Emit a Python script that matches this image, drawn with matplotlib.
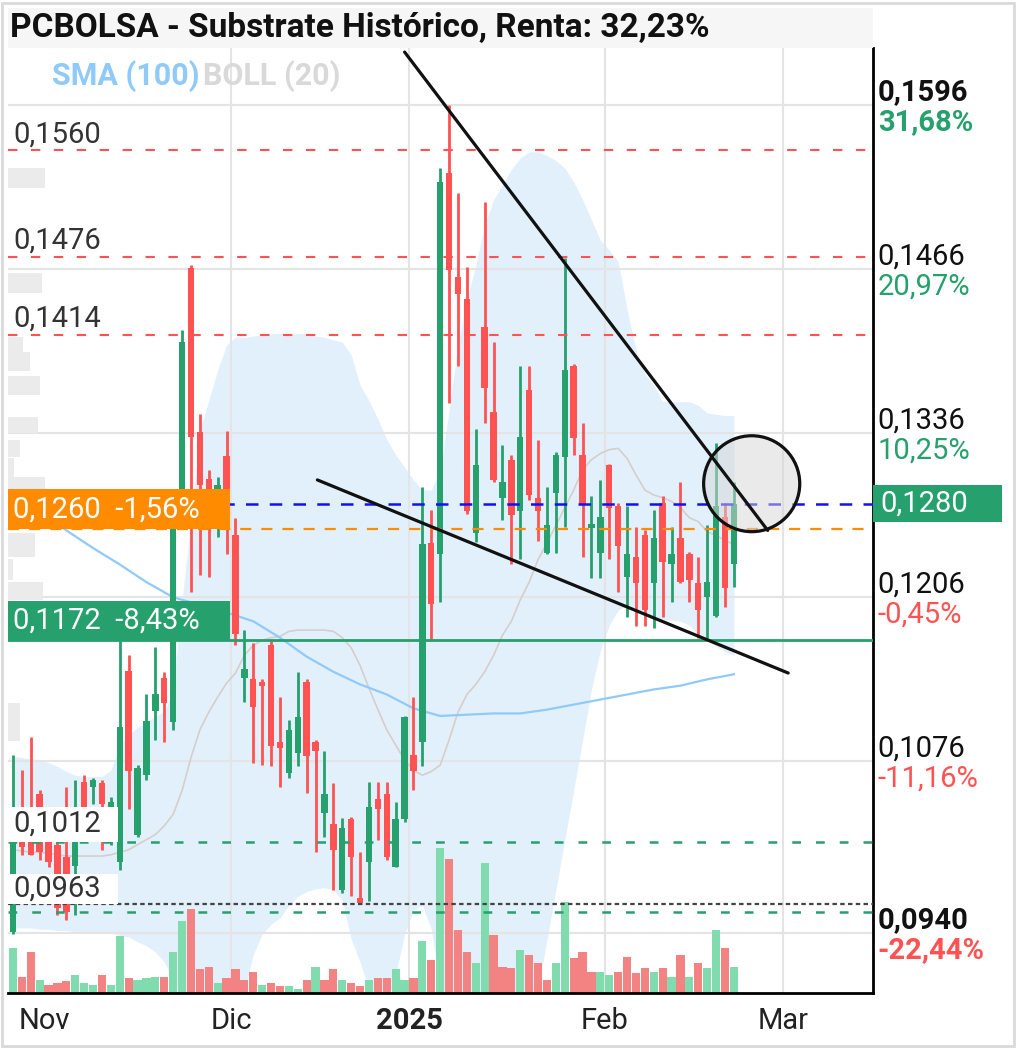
import matplotlib
matplotlib.use("Agg")
import matplotlib.pyplot as plt
import matplotlib.transforms as mtransforms
from matplotlib.patches import Rectangle, Ellipse
import numpy as np

plt.rcParams['font.family'] = ['Roboto', 'DejaVu Sans']

# --- OHLC, one candle per trading day (28 Oct 2024 .. 21 Feb 2025) ---
opens = [0.0941, 0.1036, 0.1034, 0.1050, 0.1012, 0.1010, 0.1000, 0.0993, 0.1060, 0.1056,
         0.1059, 0.1026, 0.0996, 0.1148, 0.1018, 0.1065, 0.1116, 0.1142, 0.1107, 0.1270,
         0.1467, 0.1337, 0.1300, 0.1279, 0.1318, 0.1255, 0.1142, 0.1141, 0.1139, 0.1168,
         0.1091, 0.1067, 0.1083, 0.1139, 0.1091, 0.1035, 0.1026, 0.0974, 0.1030, 0.0968,
         0.0996, 0.1046, 0.1050, 0.0992, 0.1030, 0.1081, 0.1091, 0.1249, 0.1240, 0.1542,
         0.1460, 0.1442, 0.1257, 0.1420, 0.1353, 0.1285, 0.1315, 0.1274, 0.1370, 0.1285,
         0.1241, 0.1289, 0.1317, 0.1389, 0.1319, 0.1261, 0.1241, 0.1311, 0.1278, 0.1222,
         0.1238, 0.1255, 0.1217, 0.1281, 0.1232, 0.1253, 0.1240, 0.1217, 0.1206, 0.1191,
         0.1270, 0.1232]
highs = [0.1081, 0.1069, 0.1095, 0.1053, 0.1016, 0.1014, 0.1056, 0.1061, 0.1065, 0.1063,
         0.1061, 0.1048, 0.1176, 0.1160, 0.1073, 0.1129, 0.1167, 0.1147, 0.1265, 0.1418,
         0.1469, 0.1351, 0.1307, 0.1301, 0.1338, 0.1269, 0.1180, 0.1170, 0.1141, 0.1171,
         0.1127, 0.1109, 0.1147, 0.1141, 0.1093, 0.1084, 0.1059, 0.1031, 0.1032, 0.1004,
         0.1060, 0.1060, 0.1060, 0.1044, 0.1112, 0.1127, 0.1293, 0.1275, 0.1546, 0.1596,
         0.1526, 0.1468, 0.1339, 0.1519, 0.1408, 0.1327, 0.1319, 0.1389, 0.1389, 0.1331,
         0.1293, 0.1321, 0.1475, 0.1391, 0.1344, 0.1286, 0.1299, 0.1312, 0.1281, 0.1278,
         0.1262, 0.1259, 0.1275, 0.1286, 0.1262, 0.1297, 0.1242, 0.1238, 0.1263, 0.1328,
         0.1281, 0.1297]
lows = [0.0939, 0.1002, 0.1002, 0.0998, 0.0992, 0.0954, 0.0950, 0.0954, 0.1030, 0.1042,
        0.1006, 0.1010, 0.0990, 0.1038, 0.1016, 0.1061, 0.1093, 0.1091, 0.1101, 0.1262,
        0.1210, 0.1224, 0.1222, 0.1254, 0.1240, 0.1168, 0.1123, 0.1075, 0.1073, 0.1072,
        0.1056, 0.1063, 0.1072, 0.1051, 0.1004, 0.1016, 0.0974, 0.0972, 0.0969, 0.0963,
        0.0965, 0.1014, 0.0998, 0.0992, 0.1028, 0.1053, 0.1072, 0.1171, 0.1202, 0.1360,
        0.1389, 0.1272, 0.1250, 0.1344, 0.1297, 0.1267, 0.1232, 0.1236, 0.1283, 0.1251,
        0.1240, 0.1241, 0.1262, 0.1319, 0.1238, 0.1221, 0.1221, 0.1236, 0.1210, 0.1190,
        0.1183, 0.1183, 0.1182, 0.1190, 0.1202, 0.1217, 0.1202, 0.1174, 0.1172, 0.1190,
        0.1198, 0.1214]
closes = [0.1012, 0.1008, 0.1002, 0.1004, 0.0996, 0.0960, 0.0957, 0.1012, 0.1034, 0.1061,
          0.1042, 0.1044, 0.1103, 0.1068, 0.1071, 0.1108, 0.1129, 0.1122, 0.1262, 0.1408,
          0.1333, 0.1295, 0.1289, 0.1295, 0.1288, 0.1177, 0.1149, 0.1119, 0.1136, 0.1088,
          0.1087, 0.1101, 0.1111, 0.1080, 0.1084, 0.1050, 0.1006, 0.1023, 0.1000, 0.0964,
          0.1040, 0.1038, 0.1000, 0.1030, 0.1111, 0.1068, 0.1248, 0.1201, 0.1535, 0.1465,
          0.1446, 0.1274, 0.1311, 0.1372, 0.1299, 0.1297, 0.1271, 0.1333, 0.1287, 0.1274,
          0.1263, 0.1319, 0.1386, 0.1332, 0.1279, 0.1264, 0.1270, 0.1277, 0.1247, 0.1240,
          0.1217, 0.1196, 0.1253, 0.1234, 0.1240, 0.1218, 0.1220, 0.1196, 0.1218, 0.1278,
          0.1213, 0.1280]
volumes = [45, 16, 41, 13, 8, 10, 12, 18, 10, 8,
           18, 8, 57, 15, 13, 15, 16, 16, 41, 72,
           84, 24, 26, 10, 15, 24, 13, 21, 8, 10,
           7, 7, 4, 13, 26, 13, 24, 13, 10, 7,
           13, 15, 15, 24, 13, 15, 52, 33, 145, 134,
           63, 41, 30, 130, 58, 26, 25, 43, 38, 30,
           13, 30, 91, 35, 41, 21, 21, 18, 21, 36,
           20, 25, 21, 25, 16, 38, 16, 30, 25, 63,
           45, 26]

# Bollinger (20) bands
boll_upper = [0.1080, 0.1079, 0.1078, 0.1077, 0.1075, 0.1072, 0.1068, 0.1065, 0.1064, 0.1064,
              0.1064, 0.1069, 0.1089, 0.1097, 0.1103, 0.1107, 0.1112, 0.1115, 0.1133, 0.1204,
              0.1267, 0.1339, 0.1362, 0.1386, 0.1406, 0.1412, 0.1412, 0.1413, 0.1414, 0.1415,
              0.1415, 0.1415, 0.1415, 0.1415, 0.1413, 0.1412, 0.1410, 0.1408, 0.1398, 0.1374,
              0.1362, 0.1347, 0.1331, 0.1319, 0.1309, 0.1299, 0.1291, 0.1291, 0.1307, 0.1354,
              0.1406, 0.1442, 0.1469, 0.1501, 0.1521, 0.1533, 0.1545, 0.1554, 0.1559, 0.1559,
              0.1556, 0.1552, 0.1546, 0.1535, 0.1521, 0.1505, 0.1489, 0.1481, 0.1472, 0.1434,
              0.1402, 0.1383, 0.1374, 0.1361, 0.1361, 0.1361, 0.1361, 0.1358, 0.1352, 0.1351,
              0.1350, 0.1350]
boll_lower = [0.0944, 0.0944, 0.0944, 0.0943, 0.0943, 0.0942, 0.0942, 0.0941, 0.0941, 0.0941,
              0.0940, 0.0940, 0.0938, 0.0937, 0.0933, 0.0930, 0.0925, 0.0917, 0.0903, 0.0891,
              0.0879, 0.0875, 0.0875, 0.0875, 0.0875, 0.0877, 0.0895, 0.0923, 0.0939, 0.0947,
              0.0952, 0.0962, 0.0969, 0.0973, 0.0975, 0.0976, 0.0974, 0.0966, 0.0935, 0.0917,
              0.0895, 0.0883, 0.0883, 0.0907, 0.0939, 0.0958, 0.0962, 0.0943, 0.0899, 0.0863,
              0.0863, 0.0863, 0.0863, 0.0863, 0.0863, 0.0863, 0.0863, 0.0863, 0.0879, 0.0895,
              0.0935, 0.0974, 0.1014, 0.1053, 0.1093, 0.1133, 0.1164, 0.1184, 0.1196, 0.1200,
              0.1196, 0.1192, 0.1190, 0.1188, 0.1188, 0.1187, 0.1184, 0.1176, 0.1172, 0.1167,
              0.1163, 0.1160]
boll_mid = [0.1006, 0.1005, 0.1004, 0.1004, 0.1003, 0.1002, 0.1001, 0.1001, 0.1001, 0.1001,
            0.1001, 0.1002, 0.1004, 0.1006, 0.1010, 0.1014, 0.1018, 0.1025, 0.1034, 0.1053,
            0.1079, 0.1101, 0.1115, 0.1127, 0.1138, 0.1146, 0.1160, 0.1168, 0.1172, 0.1174,
            0.1175, 0.1179, 0.1180, 0.1180, 0.1180, 0.1180, 0.1179, 0.1174, 0.1166, 0.1152,
            0.1134, 0.1117, 0.1101, 0.1089, 0.1077, 0.1069, 0.1065, 0.1068, 0.1073, 0.1093,
            0.1115, 0.1129, 0.1137, 0.1147, 0.1160, 0.1176, 0.1187, 0.1204, 0.1218, 0.1236,
            0.1249, 0.1263, 0.1277, 0.1291, 0.1307, 0.1315, 0.1320, 0.1323, 0.1324, 0.1316,
            0.1303, 0.1291, 0.1287, 0.1285, 0.1282, 0.1277, 0.1269, 0.1266, 0.1258, 0.1255,
            0.1251, 0.1248]

# SMA (100), read every third session
sma_idx = [0, 3, 6, 9, 12, 15, 18, 21, 24, 27, 30, 33, 36, 39, 42, 45, 48, 51, 54, 57,
           60, 63, 66, 69, 72, 75, 78, 81]
sma_vals = [0.1291, 0.1275, 0.1259, 0.1245, 0.1232, 0.1218, 0.1206, 0.1200, 0.1194, 0.1187,
            0.1174, 0.1159, 0.1147, 0.1137, 0.1129, 0.1118, 0.1112, 0.1113, 0.1114, 0.1114,
            0.1117, 0.1121, 0.1125, 0.1129, 0.1133, 0.1136, 0.1141, 0.1145]

# volume-at-price profile on the left edge
prof_lo = [0.1530, 0.1447, 0.1400, 0.1385, 0.1366, 0.1336, 0.1317, 0.1301, 0.1291, 0.1238,
           0.1220, 0.1204, 0.1107, 0.1092]
prof_hi = [0.1546, 0.1463, 0.1412, 0.1400, 0.1381, 0.1349, 0.1331, 0.1316, 0.1301, 0.1257,
           0.1236, 0.1218, 0.1122, 0.1107]
prof_vol = [37, 34, 15, 22, 32, 30, 12, 6, 37, 27, 5, 35, 12, 12]

# month boundaries (session index) and labels
month_pos = [3.5, 24.5, 44.5, 66.5, 86.5]
month_lbl = ['Nov', 'Dic', '2025', 'Feb', 'Mar']

price_ticks = [0.1596, 0.1466, 0.1336, 0.1206, 0.1076, 0.0940]
tick_txt = ['0,1596', '0,1466', '0,1336', '0,1206', '0,1076', '0,0940']
tick_pct = ['31,68%', '20,97%', '10,25%', '-0,45%', '-11,16%', '-22,44%']

last_price = 0.1280
support = 0.1172
ref_price = 0.1260

# trend lines (session index, price) and marked circle
trend_hi = ([44.0, 84.8], [0.1638, 0.1259])
trend_lo = ([34.2, 87.1], [0.1299, 0.1146])
circle_c = (83.0, 0.1296)

GREEN = '#26a06d'
RED = '#ff5252'
VGREEN = '#80dcae'
VRED = '#f38383'
FS = 21

W, H = 1017, 1048
fig = plt.figure(figsize=(W / 100, H / 100), dpi=100)
ax = fig.add_axes([8 / W, 55 / H, 865 / W, 945 / H])
ax.set_autoscale_on(False)

idx = np.arange(len(closes))
o, h, l, c = map(np.array, (opens, highs, lows, closes))
lab_tr = mtransforms.blended_transform_factory(ax.transAxes, ax.transData)

# bollinger + sma
ax.fill_between(idx, boll_lower, boll_upper, color='#e2f0fc', lw=0, zorder=1)
ax.plot(idx, boll_mid, color='#d6ceca', lw=1.2, zorder=2)
ax.plot(sma_idx, sma_vals, color='#90caf9', lw=1.6, zorder=2)

# grid
for v in price_ticks:
    ax.axhline(v, color='#e4e4e4', lw=1.5, zorder=1.2)
for xm in month_pos[1:]:
    ax.axvline(xm, color='#e4e4e4', lw=1.5, zorder=1.2)

# volume profile
prof_tr = mtransforms.blended_transform_factory(
    mtransforms.Affine2D().scale(1 / 865, 1) + ax.transAxes, ax.transData)
ax.barh(prof_lo, prof_vol, height=np.array(prof_hi) - np.array(prof_lo), left=0,
        align='edge', color='#ebebeb', transform=prof_tr, zorder=1.5)

# volume bars
vol_up = np.r_[True, c[1:] >= c[:-1]]
vol_tr = mtransforms.blended_transform_factory(
    ax.transData, mtransforms.Affine2D().scale(1, 1 / 945) + ax.transAxes)
ax.bar(idx, volumes, width=0.92, color=np.where(vol_up, VGREEN, VRED),
       transform=vol_tr, zorder=2.5, lw=0)

# candles
col = np.where(c >= o, GREEN, RED)
ax.vlines(idx, l, h, colors=col, lw=2, zorder=3)
ax.bar(idx, np.maximum(np.abs(c - o), 0.00018), bottom=np.minimum(o, c), width=0.72,
       color=col, lw=0, zorder=3.1)

# level lines
for lvl in (0.1560, 0.1476, 0.1414):
    ax.axhline(lvl, color=RED, lw=1.5, ls=(0, (4.5, 6.5)), zorder=4)
ax.axhline(last_price, color='#1010ff', lw=1.8, ls=(0, (5, 4.5)), zorder=4)
ax.axhline(ref_price, color='#ff8c00', lw=1.6, ls=(0, (5, 4.5)), zorder=4)
ax.axhline(support, color=GREEN, lw=2, zorder=4)
ax.axhline(0.1012, color=GREEN, lw=1.8, ls=(0, (3.5, 6)), zorder=4)
ax.axhline(0.0957, color=GREEN, lw=1.8, ls=(0, (3.5, 6)), zorder=4)
ax.axhline(0.0963, color='#444444', lw=1.6, ls=(0, (2, 1.5)), zorder=4)

# left labels
for lvl, txt in ((0.1560, '0,1560'), (0.1476, '0,1476'), (0.1414, '0,1414')):
    ax.annotate(txt, xy=(5 / 865, lvl), xycoords=lab_tr, xytext=(0, 1.5),
                textcoords='offset points', fontsize=FS, color='#333333', va='bottom', zorder=5)

ax.add_patch(Rectangle((0, ref_price), 222 / 865, 0.00317, transform=lab_tr,
                       fc='#ff8c00', lw=0, zorder=5))
ax.text(5 / 865, ref_price + 0.00158, '0,1260  -1,56%', transform=lab_tr, color='white',
        fontsize=FS, va='center', zorder=5.1)
ax.add_patch(Rectangle((0, support), 222 / 865, 0.0031, transform=lab_tr,
                       fc=GREEN, lw=0, zorder=5))
ax.text(5 / 865, support + 0.00155, '0,1172  -8,43%', transform=lab_tr, color='white',
        fontsize=FS, va='center', zorder=5.1)
ax.add_patch(Rectangle((0, 0.1012), 110 / 865, 0.0028, transform=lab_tr,
                       fc='white', lw=0, zorder=5))
ax.text(5 / 865, 0.1012 + 0.0015, '0,1012', transform=lab_tr, color='#333333',
        fontsize=FS, va='center', zorder=5.1)
ax.add_patch(Rectangle((0, 0.0963), 110 / 865, 0.0024, transform=lab_tr,
                       fc='white', lw=0, zorder=5))
ax.text(5 / 865, 0.0963 + 0.00125, '0,0963', transform=lab_tr, color='#333333',
        fontsize=FS, va='center', zorder=5.1)

# trend lines + circle
ax.add_patch(Ellipse(circle_c, 10.8, 0.0076, fc=(0.84, 0.84, 0.84, 0.5), ec='#111111',
                     lw=2.3, zorder=6.5))
ax.plot(*trend_hi, color='#111111', lw=2.3, zorder=7, solid_capstyle='round')
ax.plot(*trend_lo, color='#111111', lw=2.3, zorder=7, solid_capstyle='round')

# right axis labels
for i, (v, t1, t2) in enumerate(zip(price_ticks, tick_txt, tick_pct)):
    bold = i in (0, len(price_ticks) - 1)
    pcol = GREEN if not t2.startswith('-') else RED
    ax.annotate(t1, xy=(1, v), xycoords=lab_tr, xytext=(3.5, 3.5), textcoords='offset points',
                fontsize=FS, color='#111111', va='baseline', annotation_clip=False,
                fontweight='bold' if bold else 'normal')
    ax.annotate(t2, xy=(1, v), xycoords=lab_tr, xytext=(3.5, -18), textcoords='offset points',
                fontsize=FS, color=pcol, va='baseline', annotation_clip=False,
                fontweight='bold' if bold else 'normal')

ax.add_patch(Rectangle((1.0, last_price - 0.00146), 129 / 865, 0.00292, transform=lab_tr,
                       fc=GREEN, lw=0, clip_on=False, zorder=6))
ax.text(1 + 7 / 865, last_price, '0,1280', transform=lab_tr, color='white', fontsize=FS,
        va='center', zorder=6.1, clip_on=False)

# legend
ax.text(44 / 865, 917 / 945, 'SMA (100)', transform=ax.transAxes, color='#90caf9',
        fontsize=22, fontweight='bold', va='center', zorder=8)
ax.text(195 / 865, 917 / 945, 'BOLL (20)', transform=ax.transAxes, color='#d9d9d9',
        fontsize=22, fontweight='bold', va='center', zorder=8)

# axes cosmetics
ax.set_xlim(-0.56, 96.63)
ax.set_ylim(0.08925, 0.16412)
ax.set_yticks([])
ax.set_xticks(month_pos)
ax.set_xticklabels(month_lbl, fontsize=FS, color='#222222')
ax.get_xticklabels()[2].set_fontweight('bold')
ax.tick_params(axis='x', length=0, pad=10)
for s in ('top', 'left'):
    ax.spines[s].set_visible(False)
for s in ('right', 'bottom'):
    ax.spines[s].set_color('black')
    ax.spines[s].set_linewidth(2)

# title band + frame
fig.patches.append(Rectangle((8 / W, 1 - 48 / H), 865 / W, 40 / H, transform=fig.transFigure,
                             fc='#f6f6f6', lw=0, zorder=0))
fig.text(10 / W, 1 - 28 / H, 'PCBOLSA - Substrate Histórico, Renta: 32,23%', fontsize=24,
         fontweight='bold', va='center', color='#111111')
fig.patches.append(Rectangle((2 / W, 2 / H), 1012 / W, 1043 / H, transform=fig.transFigure,
                             fill=False, ec='#d9d9d9', lw=2))

fig.savefig('out.png', dpi=100)
